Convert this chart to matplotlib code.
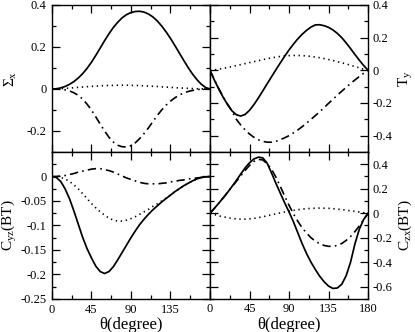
import matplotlib
matplotlib.use("Agg")
import matplotlib.pyplot as plt
import numpy as np

plt.rcParams['font.family'] = ['Liberation Serif', 'DejaVu Serif']
plt.rcParams['mathtext.fontset'] = 'stix'
plt.rcParams['axes.unicode_minus'] = False

# theta grid (degree), values every 5 degrees
theta = list(range(0, 181, 5))

# Sigma_x (top left)
sx_solid = [0, 0.001, 0.005, 0.012, 0.022, 0.035, 0.052, 0.073, 0.098, 0.127, 0.16, 0.195, 0.23,
            0.263, 0.293, 0.318, 0.339, 0.354, 0.364, 0.369, 0.37, 0.366, 0.357, 0.343, 0.324,
            0.3, 0.272, 0.241, 0.207, 0.172, 0.137, 0.103, 0.072, 0.045, 0.023, 0.007, 0]
sx_dot = [0, 0.0005, 0.001, 0.003, 0.004, 0.006, 0.008, 0.009, 0.011, 0.012, 0.014, 0.015, 0.016,
          0.017, 0.017, 0.018, 0.018, 0.018, 0.017, 0.017, 0.016, 0.015, 0.014, 0.013, 0.012,
          0.01, 0.009, 0.008, 0.006, 0.005, 0.004, 0.003, 0.002, 0.001, 0.001, 0, 0]
sx_dd = [0, 0, -0.001, -0.004, -0.009, -0.018, -0.03, -0.048, -0.072, -0.1, -0.133, -0.167, -0.2,
         -0.23, -0.253, -0.268, -0.275, -0.276, -0.27, -0.256, -0.236, -0.212, -0.185, -0.155, -0.126,
         -0.1, -0.077, -0.058, -0.042, -0.029, -0.019, -0.012, -0.007, -0.003, -0.001, 0, 0]

# T_y (top right)
ty_solid = [0, -0.06, -0.115, -0.165, -0.21, -0.248, -0.272, -0.28, -0.27, -0.245, -0.21, -0.17, -0.127,
            -0.083, -0.04, 0.003, 0.045, 0.086, 0.125, 0.16, 0.193, 0.221, 0.245, 0.265, 0.278,
            0.279, 0.273, 0.263, 0.247, 0.226, 0.2, 0.168, 0.133, 0.097, 0.062, 0.029, 0]
ty_dot = [0, 0.003, 0.007, 0.012, 0.017, 0.023, 0.029, 0.035, 0.041, 0.047, 0.053, 0.059, 0.065,
          0.071, 0.076, 0.081, 0.085, 0.088, 0.09, 0.091, 0.091, 0.09, 0.088, 0.085, 0.081,
          0.077, 0.072, 0.066, 0.06, 0.053, 0.046, 0.039, 0.031, 0.023, 0.015, 0.007, 0]
ty_dd = [0, -0.058, -0.112, -0.162, -0.207, -0.25, -0.3, -0.335, -0.365, -0.39, -0.41, -0.425, -0.435,
         -0.44, -0.44, -0.435, -0.425, -0.413, -0.4, -0.383, -0.365, -0.345, -0.323, -0.3, -0.277,
         -0.253, -0.228, -0.202, -0.177, -0.152, -0.128, -0.104, -0.081, -0.059, -0.038, -0.018, 0]

# C_yz(BT) (bottom left)
cyz_solid = [0, -0.002, -0.01, -0.025, -0.045, -0.07, -0.097, -0.124, -0.147, -0.166, -0.183, -0.194, -0.198,
             -0.194, -0.184, -0.17, -0.155, -0.14, -0.125, -0.111, -0.098, -0.087, -0.077, -0.068, -0.06,
             -0.052, -0.045, -0.038, -0.031, -0.025, -0.019, -0.014, -0.009, -0.005, -0.002, -0.001, 0]
cyz_dot = [0, 0, -0.002, -0.005, -0.01, -0.017, -0.025, -0.035, -0.045, -0.055, -0.064, -0.072, -0.079,
           -0.085, -0.089, -0.091, -0.091, -0.089, -0.086, -0.082, -0.077, -0.072, -0.067, -0.061, -0.056,
           -0.05, -0.044, -0.038, -0.031, -0.025, -0.019, -0.014, -0.009, -0.005, -0.002, -0.001, 0]
cyz_dd = [0, 0, 0.001, 0.002, 0.004, 0.006, 0.009, 0.011, 0.013, 0.015, 0.016, 0.016, 0.014,
          0.012, 0.009, 0.005, 0.001, -0.003, -0.006, -0.009, -0.012, -0.014, -0.015, -0.015, -0.015,
          -0.014, -0.013, -0.011, -0.01, -0.008, -0.007, -0.005, -0.004, -0.003, -0.002, -0.001, 0]

# C_zx(BT) (bottom right)
czx_solid = [0, 0.04, 0.082, 0.125, 0.17, 0.218, 0.268, 0.32, 0.37, 0.412, 0.443, 0.458, 0.452,
             0.41, 0.33, 0.245, 0.165, 0.085, 0.01, -0.07, -0.16, -0.25, -0.33, -0.4, -0.46,
             -0.515, -0.56, -0.595, -0.614, -0.61, -0.58, -0.51, -0.4, -0.25, -0.13, -0.05, 0]
czx_dot = [0, -0.011, -0.021, -0.029, -0.036, -0.042, -0.046, -0.048, -0.048, -0.046, -0.042, -0.036, -0.029,
           -0.021, -0.013, -0.005, 0.003, 0.01, 0.017, 0.023, 0.029, 0.034, 0.037, 0.04, 0.041,
           0.042, 0.041, 0.04, 0.037, 0.034, 0.03, 0.025, 0.02, 0.015, 0.01, 0.005, 0]
czx_dd = [0, 0.04, 0.082, 0.125, 0.17, 0.215, 0.26, 0.305, 0.35, 0.39, 0.423, 0.44, 0.435,
          0.405, 0.36, 0.295, 0.22, 0.14, 0.065, -0.005, -0.065, -0.12, -0.163, -0.2, -0.228,
          -0.25, -0.263, -0.27, -0.27, -0.263, -0.247, -0.222, -0.19, -0.15, -0.103, -0.052, 0]

fig = plt.figure(figsize=(4.15, 3.32), dpi=100)
gs = fig.add_gridspec(2, 2, left=0.125, right=0.887, top=0.985, bottom=0.0994,
                      hspace=0, wspace=0)

panels = [
    (gs[0, 0], sx_solid, sx_dot, sx_dd, (-0.3, 0.4), np.arange(-0.2, 0.41, 0.2), np.arange(-0.3, 0.4, 0.2),
     r'$\mathregular{\Sigma_x}$', 'left'),
    (gs[0, 1], ty_solid, ty_dot, ty_dd, (-0.5, 0.4), np.arange(-0.4, 0.41, 0.2), np.arange(-0.5, 0.4, 0.2),
     r'$\mathregular{T_y}$', 'right'),
    (gs[1, 0], cyz_solid, cyz_dot, cyz_dd, (-0.25, 0.05), np.arange(-0.25, 0.001, 0.05),
     np.arange(-0.225, 0.05, 0.05), r'C$\mathregular{_{yz}}$(BT)', 'left'),
    (gs[1, 1], czx_solid, czx_dot, czx_dd, (-0.7, 0.5), np.arange(-0.6, 0.41, 0.2), np.arange(-0.7, 0.5, 0.2),
     r'C$\mathregular{_{zx}}$(BT)', 'right'),
]

for i, (g, s, d, dd, ylim, major, minor, lab, side) in enumerate(panels):
    ax = fig.add_subplot(g)
    ax.plot(theta, s, color='black', lw=1.25, ls='-')
    ax.plot(theta, d, color='black', lw=1.2, ls=(0, (0.8, 2.2)))
    ax.plot(theta, dd, color='black', lw=1.2, ls=(0, (5, 2.5, 1, 2.5)))
    ax.set_xlim(0, 180)
    ax.set_ylim(*ylim)
    ax.set_xticks([0, 45, 90, 135, 180])
    ax.set_xticks([22.5, 67.5, 112.5, 157.5], minor=True)
    ax.set_yticks(major)
    ax.set_yticks(minor, minor=True)
    ax.set_yticklabels(['%g' % (round(v, 3) + 0.0) for v in major])
    ax.tick_params(which='both', direction='in', top=True, right=True, left=True, bottom=True,
                   labelsize=9, width=0.9)
    ax.tick_params(which='major', length=6)
    ax.tick_params(which='minor', length=3)
    for sp in ax.spines.values():
        sp.set_linewidth(1.0)
    if side == 'right':
        ax.yaxis.tick_right()
        ax.tick_params(which='both', left=True, right=True, labelleft=False, labelright=True, pad=3)
        ax.yaxis.set_label_position('right')
        ax.set_ylabel(lab, fontsize=11, rotation=90)
        ax.yaxis.set_label_coords(1.18, 0.5)
    else:
        ax.tick_params(axis='y', pad=4)
        ax.set_ylabel(lab, fontsize=11)
        ax.yaxis.set_label_coords(-0.21, 0.5)
    if i < 2:
        ax.tick_params(labelbottom=False)
    else:
        ax.set_xlabel('θ(degree)', fontsize=12, labelpad=1)
        if i == 2:
            ax.set_xticklabels(['0', '45', '90', '135', ''])

fig.savefig('out.png', dpi=100)
